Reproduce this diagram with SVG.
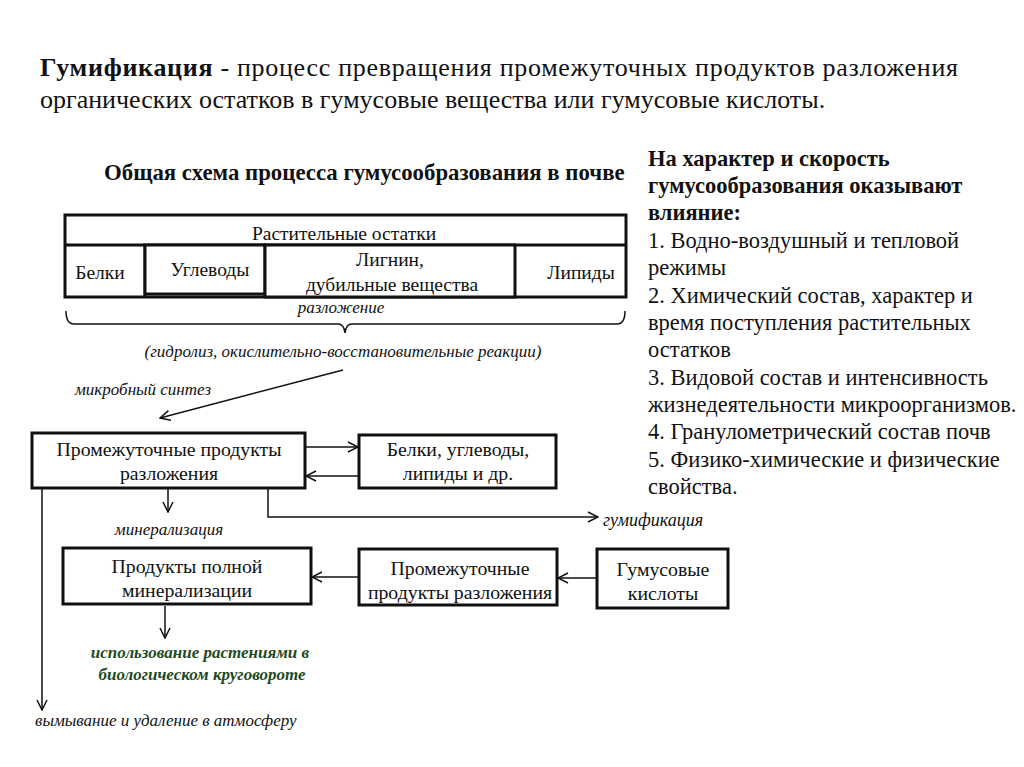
<svg xmlns="http://www.w3.org/2000/svg" width="1024" height="767" viewBox="0 0 1024 767" font-family="Liberation Serif, serif">
<defs>
<style>
text{font-family:"Liberation Serif","Times New Roman",serif;fill:#111}
.t{font-size:26px}
.h{font-size:22.8px;font-weight:bold}
.r{font-size:22.5px}
.rb{font-size:22.5px;font-weight:bold}
.n{font-size:19.8px;text-anchor:middle}
.c{font-size:19.5px;text-anchor:middle}
.i{font-size:17px;font-style:italic}
.g{font-size:17px;font-style:italic;font-weight:bold;fill:#1f4a1f;text-anchor:middle}
.box{fill:#fff;stroke:#111;stroke-width:3}
.ln{fill:none;stroke:#111;stroke-width:1.5}
</style>
<marker id="ah" viewBox="0 0 12 12" refX="11" refY="6" markerWidth="12" markerHeight="12" markerUnits="userSpaceOnUse" orient="auto">
<path d="M1,1 L11,6 L1,11" fill="none" stroke="#111" stroke-width="1.5"/>
</marker>
</defs>
<rect width="1024" height="767" fill="#fff"/>

<g id="title">
<text class="t" x="40" y="76" textLength="918" lengthAdjust="spacing"><tspan font-weight="bold">Гумификация</tspan> - процесс превращения промежуточных продуктов разложения</text>
<text class="t" x="40" y="108">органических остатков в гумусовые вещества или гумусовые кислоты.</text>
</g>

<g id="subtitle">
<text class="h" x="104" y="180">Общая схема процесса гумусообразования в почве</text>
</g>

<g id="factors">
<text class="rb" x="648" y="166">На характер и скорость</text>
<text class="rb" x="648" y="193">гумусообразования оказывают</text>
<text class="rb" x="648" y="220">влияние:</text>
<text class="r" x="648" y="248">1. Водно-воздушный и тепловой</text>
<text class="r" x="648" y="275">режимы</text>
<text class="r" x="648" y="303">2. Химический состав, характер и</text>
<text class="r" x="648" y="330">время поступления растительных</text>
<text class="r" x="648" y="357">остатков</text>
<text class="r" x="648" y="385">3. Видовой состав и интенсивность</text>
<text class="r" x="648" y="412">жизнедеятельности микроорганизмов.</text>
<text class="r" x="648" y="439">4. Гранулометрический состав почв</text>
<text class="r" x="648" y="467">5. Физико-химические и физические</text>
<text class="r" x="648" y="494">свойства.</text>
</g>

<g id="plant-remains">
<rect class="box" x="65" y="215" width="561" height="82"/>
<line x1="65" y1="245" x2="626" y2="245" stroke="#111" stroke-width="3"/>
<text class="c" x="344" y="240">Растительные остатки</text>
</g>
<g id="belki">
<line x1="145" y1="245" x2="145" y2="297" stroke="#111" stroke-width="3"/>
<text class="c" x="100" y="279">Белки</text>
</g>
<g id="uglevody">
<rect class="box" x="145" y="245" width="120" height="49"/>
<text class="c" x="210" y="276">Углеводы</text>
</g>
<g id="lignin">
<rect class="box" x="265" y="245" width="250" height="52"/>
<text class="c" x="390" y="266">Лигнин,</text>
<text class="c" x="392" y="291">дубильные вещества</text>
</g>
<g id="lipidy">
<text class="c" x="581" y="279">Липиды</text>
</g>

<g id="brace">
<path class="ln" d="M66,311 Q66,324 74,324 L338,324 Q344,324 345,333 Q346,324 352,324 L617,324 Q625,324 625,311"/>
<text class="i" x="341" y="313" text-anchor="middle">разложение</text>
<text class="i" x="343" y="357" text-anchor="middle">(гидролиз, окислительно-восстановительные реакции)</text>
<text class="i" x="75" y="395">микробный синтез</text>
</g>

<g id="intermediate1">
<rect class="box" x="32" y="433" width="273" height="55"/>
<text class="n" x="169" y="456">Промежуточные продукты</text>
<text class="n" x="169" y="480">разложения</text>
</g>
<g id="proteins2">
<rect class="box" x="359" y="435" width="197" height="53"/>
<text class="n" x="458" y="456">Белки, углеводы,</text>
<text class="n" x="458" y="480">липиды и др.</text>
</g>
<g id="mineral">
<rect class="box" x="63" y="548" width="248" height="56"/>
<text class="n" x="187" y="573">Продукты полной</text>
<text class="n" x="187" y="597">минерализации</text>
</g>
<g id="intermediate2">
<rect class="box" x="359" y="549" width="198" height="56"/>
<text class="n" x="460" y="575">Промежуточные</text>
<text class="n" x="460" y="599">продукты разложения</text>
</g>
<g id="humic">
<rect class="box" x="597" y="549" width="131" height="59"/>
<text class="n" x="663" y="576">Гумусовые</text>
<text class="n" x="663" y="600">кислоты</text>
</g>

<g id="labels">
<text class="i" x="169" y="535" text-anchor="middle">минерализация</text>
<text class="i" x="603" y="526" style="font-size:18px">гумификация</text>
<text class="g" x="200" y="658">использование растениями в</text>
<text class="g" x="202" y="680">биологическом круговороте</text>
<text class="i" x="35" y="726">вымывание и удаление в атмосферу</text>
</g>

<g id="connectors">
<line class="ln" x1="343" y1="370" x2="160" y2="418" marker-end="url(#ah)"/>
<line class="ln" x1="305" y1="447" x2="358" y2="447" marker-end="url(#ah)"/>
<line class="ln" x1="359" y1="476" x2="306" y2="476" marker-end="url(#ah)"/>
<line class="ln" x1="168" y1="489" x2="168" y2="512" marker-end="url(#ah)"/>
<polyline class="ln" points="268,489 268,517 598,517" marker-end="url(#ah)"/>
<line class="ln" x1="42" y1="489" x2="42" y2="710" marker-end="url(#ah)"/>
<line class="ln" x1="359" y1="577" x2="312" y2="577" marker-end="url(#ah)"/>
<line class="ln" x1="597" y1="578" x2="558" y2="578" marker-end="url(#ah)"/>
<line class="ln" x1="165" y1="606" x2="165" y2="638" marker-end="url(#ah)"/>
</g>
</svg>
